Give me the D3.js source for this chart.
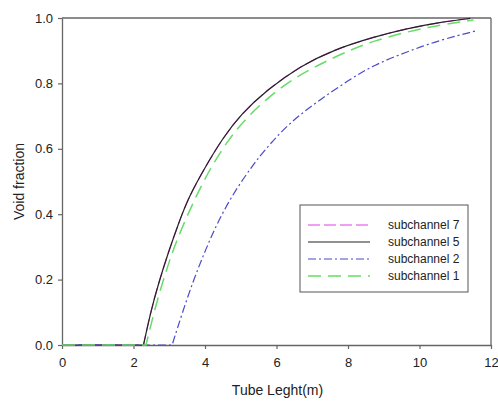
<!DOCTYPE html>
<html>
<head>
<meta charset="utf-8">
<script src="https://cdn.jsdelivr.net/npm/d3@7"></script>
<style>
  body { margin: 0; background: #fff; }
  text { font-family: "Liberation Sans", Arial, sans-serif; fill: #222; }
</style>
</head>
<body>
<div id="chart"></div>
<script>
// data
var xTicks = [0, 2, 4, 6, 8, 10, 12];
var yTicks = [0.0, 0.2, 0.4, 0.6, 0.8, 1.0];

var sub5X = [0, 2.28, 2.47, 2.70, 2.98, 3.26, 3.54, 4.01, 4.48, 5.0, 5.73, 6.67, 7.6, 8.72, 9.65, 10.58, 11.42];
var sub5Y = [0, 0, 0.097, 0.189, 0.285, 0.372, 0.452, 0.545, 0.63, 0.705, 0.78, 0.853, 0.903, 0.942, 0.968, 0.987, 0.999];

// subchannel 7 sits under subchannel 5
var sub7X = sub5X.slice();
var sub7Y = sub5Y.slice();

var sub1X = [0, 2.35, 2.61, 2.89, 3.17, 3.64, 4.10, 4.66, 5.25, 6.2, 7.13, 8.06, 8.72, 9.65, 10.58, 11.51];
var sub1Y = [0, 0, 0.117, 0.219, 0.311, 0.43, 0.532, 0.63, 0.707, 0.797, 0.855, 0.902, 0.93, 0.958, 0.979, 0.994];

var sub2X = [0, 3.08, 3.36, 3.68, 4.01, 4.38, 4.85, 5.31, 5.6, 6.29, 7.13, 8.06, 8.72, 9.65, 10.58, 11.56];
var sub2Y = [0, 0, 0.097, 0.199, 0.29, 0.382, 0.474, 0.545, 0.587, 0.673, 0.744, 0.813, 0.856, 0.897, 0.933, 0.96];

var series = [
  {name: "subchannel 7", xs: sub7X, ys: sub7Y, color: "#e040e0", dash: "12,4", width: 1.2},
  {name: "subchannel 5", xs: sub5X, ys: sub5Y, color: "#222", dash: null, width: 1.2},
  {name: "subchannel 2", xs: sub2X, ys: sub2Y, color: "#4a4ac8", dash: "8,3,2,3", width: 1.2},
  {name: "subchannel 1", xs: sub1X, ys: sub1Y, color: "#66dd66", dash: "13,7", width: 1.5}
];

var margin = {top: 18, right: 7, bottom: 56, left: 62},
    width = 498 - margin.left - margin.right,
    height = 401 - margin.top - margin.bottom;

var svg = d3.select("#chart")
  .append("svg")
    .attr("width", 498)
    .attr("height", 401)
  .append("g")
    .attr("transform", "translate(" + margin.left + "," + margin.top + ")");

var x = d3.scaleLinear().domain([0, 12]).range([0, width]);
var y = d3.scaleLinear().domain([0, 1]).range([height, 0]);

var axisColor = "#666";

// frame (top and right)
svg.append("line")
  .attr("x1", 0).attr("x2", width).attr("y1", 0).attr("y2", 0)
  .attr("stroke", axisColor).attr("stroke-width", 1.3);
svg.append("line")
  .attr("x1", width).attr("x2", width).attr("y1", 0).attr("y2", height)
  .attr("stroke", axisColor).attr("stroke-width", 1.3);

// x axis
var gx = svg.append("g")
  .attr("transform", "translate(0," + height + ")")
  .call(d3.axisBottom(x).tickValues(xTicks).tickFormat(d3.format("d"))
    .tickSizeInner(4).tickSizeOuter(0).tickPadding(9));
// y axis
var gy = svg.append("g")
  .call(d3.axisLeft(y).tickValues(yTicks).tickFormat(d3.format(".1f"))
    .tickSizeInner(4).tickSizeOuter(0).tickPadding(5));

[gx, gy].forEach(function(g) {
  g.select(".domain").attr("stroke", axisColor).attr("stroke-width", 1.3);
  g.selectAll(".tick line").attr("stroke", axisColor).attr("stroke-width", 1.2);
  g.selectAll(".tick text")
    .attr("fill", "#222")
    .style("font-family", "'Liberation Sans', Arial, sans-serif")
    .style("font-size", "13px");
});
gx.selectAll(".tick text").attr("dy", "0.71em");

// axis titles
svg.append("text")
  .attr("x", width / 2 + 1)
  .attr("y", 395 - margin.top)
  .attr("text-anchor", "middle")
  .style("font-size", "14px")
  .text("Tube Leght(m)");

svg.append("text")
  .attr("transform", "rotate(-90)")
  .attr("x", -(height / 2))
  .attr("y", 24 - margin.left)
  .attr("text-anchor", "middle")
  .style("font-size", "14px")
  .text("Void fraction");

// lines: flat part straight, rising part smoothed
var flat = d3.line()
  .x(function(d) { return x(d[0]); })
  .y(function(d) { return y(d[1]); });
var smooth = d3.line()
  .x(function(d) { return x(d[0]); })
  .y(function(d) { return y(d[1]); })
  .curve(d3.curveBasis);

series.forEach(function(s) {
  var pts = s.xs.map(function(v, i) { return [v, s.ys[i]]; });
  var d = flat(pts.slice(0, 2)) + smooth(pts.slice(1)).replace(/^M/, "L");
  svg.append("path")
    .attr("d", d)
    .attr("fill", "none")
    .attr("stroke", s.color)
    .attr("stroke-width", s.width)
    .attr("stroke-dasharray", s.dash);
});

// legend
var lg = svg.append("g")
  .attr("transform", "translate(" + (300 - margin.left) + "," + (205 - margin.top) + ")");

lg.append("rect")
  .attr("x", 0).attr("y", 0)
  .attr("width", 168).attr("height", 87)
  .attr("fill", "#fff")
  .attr("stroke", "#555")
  .attr("stroke-width", 1);

series.forEach(function(s, i) {
  var ry = 20 + i * 17;
  lg.append("line")
    .attr("x1", 8).attr("x2", 70)
    .attr("y1", ry).attr("y2", ry)
    .attr("stroke", s.color)
    .attr("stroke-width", s.width)
    .attr("stroke-dasharray", s.dash);
  lg.append("text")
    .attr("x", 88)
    .attr("y", ry)
    .attr("dy", "0.35em")
    .style("font-size", "12px")
    .text(s.name);
});
</script>
</body>
</html>
